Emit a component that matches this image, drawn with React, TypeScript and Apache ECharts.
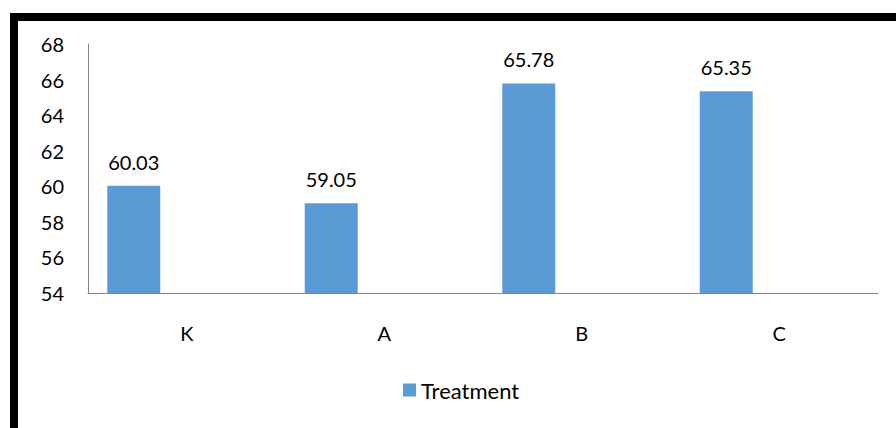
import React, { useEffect, useRef } from "react";
import * as echarts from "echarts";

const categories = ["K", "A", "B", "C"];
const treatment = [60.03, 59.05, 65.78, 65.35];
const emptySeries = [null, null, null, null];
const yMin = 54;
const yMax = 68;
const yStep = 2;

export default function App() {
  const ref = useRef<HTMLDivElement>(null);
  useEffect(() => {
    document.body.style.margin = "0";
    const chart = echarts.init(ref.current!, undefined, { renderer: "svg" });
    const font = "Lato, 'Noto Sans', sans-serif";
    chart.setOption({
      animation: false,
      backgroundColor: "#ffffff",
      textStyle: { fontFamily: font },
      grid: { left: 88, right: 18, top: 44, bottom: 135, containLabel: false },
      xAxis: {
        type: "category",
        data: categories,
        axisLine: { show: true, lineStyle: { color: "#868686", width: 1 } },
        axisTick: { show: false },
        axisLabel: { color: "#000000", fontSize: 20, margin: 30, fontFamily: font },
        splitLine: { show: false },
      },
      yAxis: {
        type: "value",
        min: yMin,
        max: yMax,
        interval: yStep,
        axisLine: { show: true, lineStyle: { color: "#868686", width: 1 } },
        axisTick: { show: false },
        axisLabel: { color: "#000000", fontSize: 20, margin: 24, fontFamily: font },
        splitLine: { show: false },
      },
      legend: {
        data: ["Treatment"],
        bottom: 22,
        left: 398,
        itemWidth: 13,
        itemHeight: 13,
        itemGap: 6,
        icon: "rect",
        textStyle: { color: "#000000", fontSize: 22, fontFamily: font, padding: [0, 0, 0, 0] },
      },
      series: [
        {
          name: "Treatment",
          type: "bar",
          data: treatment,
          barWidth: 53,
          barGap: "100%",
          itemStyle: { color: "#5B9BD5" },
          label: {
            show: true,
            position: "top",
            distance: 14,
            color: "#000000",
            fontSize: 20,
            fontFamily: font,
            formatter: (p: any) => p.value.toFixed(2),
          },
        },
        {
          name: "empty",
          type: "bar",
          data: emptySeries,
          barWidth: 53,
          barGap: "100%",
          itemStyle: { color: "#ED7D31" },
        },
      ],
      graphic: [
        { type: "rect", shape: { x: 10, y: 13, width: 886, height: 8 }, style: { fill: "#000000" } },
        { type: "rect", shape: { x: 10, y: 13, width: 8, height: 415 }, style: { fill: "#000000" } },
      ],
    });
    return () => chart.dispose();
  }, []);
  return <div ref={ref} style={{ position: "absolute", left: 0, top: 0, width: 896, height: 428 }} />;
}
